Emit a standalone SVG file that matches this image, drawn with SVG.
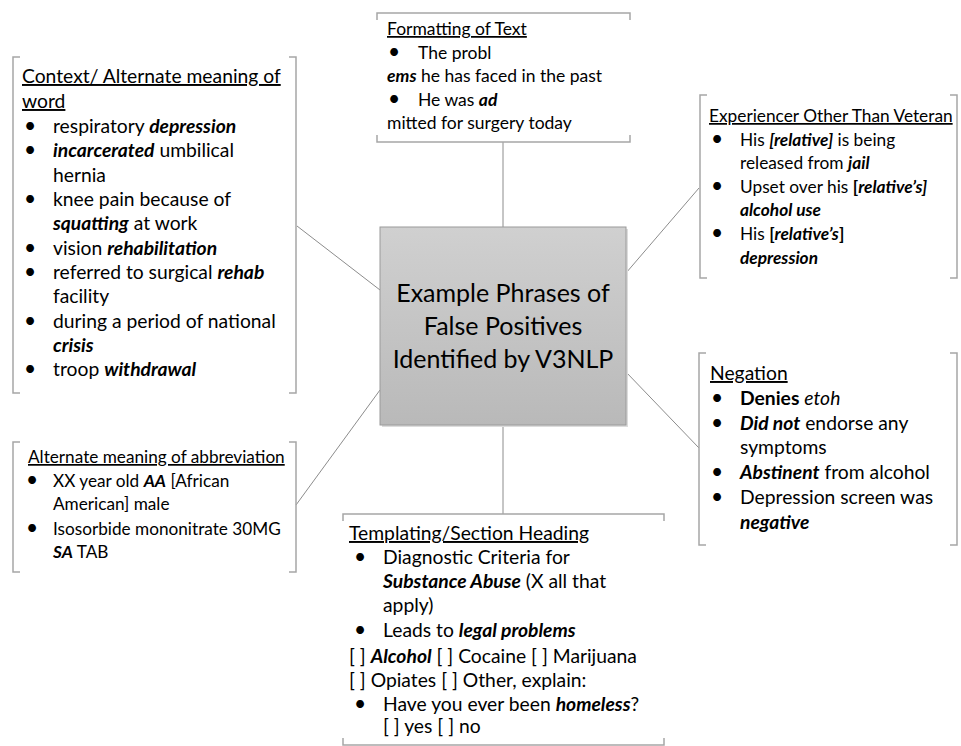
<svg xmlns="http://www.w3.org/2000/svg" width="961" height="746" viewBox="0 0 961 746">
<defs>
<linearGradient id="g" x1="0" y1="0" x2="0" y2="1">
<stop offset="0" stop-color="#d0d0d0"/>
<stop offset="1" stop-color="#b9b9b9"/>
</linearGradient>
</defs>
<style>
text{font-family:Lato,"Liberation Sans",sans-serif;font-size:17.5px;fill:#000}
.L text{font-size:19.3px}
.S text{font-size:17.2px}
.M text{font-size:17.3px}
.u{text-decoration:underline}
.bi{font-weight:bold;font-style:italic}
.b{font-weight:bold}
.i{font-style:italic}
text.d{font-size:21px}
.br{fill:none;stroke:#a6a6a6;stroke-width:1.5}
.c{stroke:#8c8c8c;stroke-width:1;fill:none}
text.ct{font-size:25px;text-anchor:middle}
</style>
<rect width="961" height="746" fill="#fff"/>
<g id="connectors">
<line class="c" x1="503" y1="142" x2="503" y2="227"/>
<line class="c" x1="503" y1="425" x2="503" y2="514"/>
<line class="c" x1="297" y1="226" x2="380" y2="290"/>
<line class="c" x1="380" y1="390" x2="296" y2="505"/>
<line class="c" x1="626" y1="273" x2="699" y2="188"/>
<line class="c" x1="626" y1="372" x2="699" y2="448"/>
</g>
<g id="center">
<rect x="382" y="229" width="246" height="198" fill="#dcdcdc"/>
<rect x="380" y="227" width="246" height="198" fill="url(#g)" stroke="#9a9a9a" stroke-width="1"/>
<text class="ct" x="503" y="302">Example Phrases of</text>
<text class="ct" x="503" y="335">False Positives</text>
<text class="ct" x="503" y="368">Identified by V3NLP</text>
</g>
<g id="formatting">
<path class="br" d="M377,20 V13 H630 V20 M377,135 V142 H630 V135"/>
<text class="u" x="387" y="35">Formatting of Text</text>
<text class="d" x="388" y="59">•</text><text x="418" y="59">The probl</text>
<text x="387" y="82"><tspan class="bi">ems</tspan> he has faced in the past</text>
<text class="d" x="388" y="106">•</text><text x="418" y="106">He was <tspan class="bi">ad</tspan></text>
<text x="387" y="129">mitted for surgery today</text>
</g>
<g id="context" class="L">
<path class="br" d="M20,57 H13 V393 H20 M289,57 H296 V393 H289"/>
<text class="u" x="22" y="83">Context/ Alternate meaning of</text>
<text class="u" x="22" y="108">word</text>
<text class="d" x="24" y="133">•</text><text x="53" y="133">respiratory <tspan class="bi">depression</tspan></text>
<text class="d" x="24" y="157">•</text><text x="53" y="157"><tspan class="bi">incarcerated</tspan> umbilical</text>
<text x="53" y="182">hernia</text>
<text class="d" x="24" y="206">•</text><text x="53" y="206">knee pain because of</text>
<text x="53" y="230"><tspan class="bi">squatting</tspan> at work</text>
<text class="d" x="24" y="255">•</text><text x="53" y="255">vision <tspan class="bi">rehabilitation</tspan></text>
<text class="d" x="24" y="279">•</text><text x="53" y="279">referred to surgical <tspan class="bi">rehab</tspan></text>
<text x="53" y="303">facility</text>
<text class="d" x="24" y="328">•</text><text x="53" y="328">during a period of national</text>
<text x="53" y="352"><tspan class="bi">crisis</tspan></text>
<text class="d" x="24" y="376">•</text><text x="53" y="376">troop <tspan class="bi">withdrawal</tspan></text>
</g>
<g id="abbreviation" class="S">
<path class="br" d="M20,442 H13 V572 H20 M289,442 H296 V572 H289"/>
<text class="u" x="28" y="463">Alternate meaning of abbreviation</text>
<text class="d" x="26" y="487">•</text><text x="53" y="487">XX year old <tspan class="bi">AA</tspan> [African</text>
<text x="53" y="510">American] male</text>
<text class="d" x="26" y="535">•</text><text x="53" y="535">Isosorbide mononitrate 30MG</text>
<text x="53" y="558"><tspan class="bi">SA</tspan> TAB</text>
</g>
<g id="experiencer" class="M">
<path class="br" d="M707,95 H700 V278 H707 M950,95 H957 V278 H950"/>
<text class="u" x="709" y="122">Experiencer Other Than Veteran</text>
<text class="d" x="711" y="146">•</text><text x="740" y="146">His <tspan class="bi">[relative]</tspan> is being</text>
<text x="740" y="169">released from <tspan class="bi">jail</tspan></text>
<text class="d" x="711" y="193">•</text><text x="740" y="193">Upset over his <tspan class="b">[</tspan><tspan class="bi">relative’s]</tspan></text>
<text x="740" y="216" class="bi">alcohol use</text>
<text class="d" x="711" y="240">•</text><text x="740" y="240">His <tspan class="b">[</tspan><tspan class="bi">relative’s</tspan><tspan class="b">]</tspan></text>
<text x="740" y="264" class="bi">depression</text>
</g>
<g id="negation" class="L">
<path class="br" d="M706,353 H699 V545 H706 M950,353 H957 V545 H950"/>
<text class="u" x="710" y="380">Negation</text>
<text class="d" x="711" y="405">•</text><text x="740" y="405"><tspan class="b">Denies</tspan> <tspan class="i">etoh</tspan></text>
<text class="d" x="711" y="430">•</text><text x="740" y="430"><tspan class="bi">Did not</tspan> endorse any</text>
<text x="740" y="454">symptoms</text>
<text class="d" x="711" y="479">•</text><text x="740" y="479"><tspan class="bi">Abstinent</tspan> from alcohol</text>
<text class="d" x="711" y="504">•</text><text x="740" y="504">Depression screen was</text>
<text x="740" y="529" class="bi">negative</text>
</g>
<g id="templating" class="L">
<path class="br" d="M343,521 V514 H664 V521 M343,738 V745 H664 V738"/>
<text class="u" x="349" y="540">Templating/Section Heading</text>
<text class="d" x="354" y="564">•</text><text x="383" y="564">Diagnostic Criteria for</text>
<text x="383" y="588"><tspan class="bi">Substance Abuse</tspan> (X all that</text>
<text x="383" y="612">apply)</text>
<text class="d" x="354" y="637">•</text><text x="383" y="637">Leads to <tspan class="bi">legal problems</tspan></text>
<text x="349" y="663">[ ] <tspan class="bi">Alcohol</tspan> [ ] Cocaine [ ] Marijuana</text>
<text x="349" y="687">[ ] Opiates [ ] Other, explain:</text>
<text class="d" x="354" y="711">•</text><text x="383" y="711">Have you ever been <tspan class="bi">homeless</tspan>?</text>
<text x="383" y="733">[ ] yes [ ] no</text>
</g>
</svg>
